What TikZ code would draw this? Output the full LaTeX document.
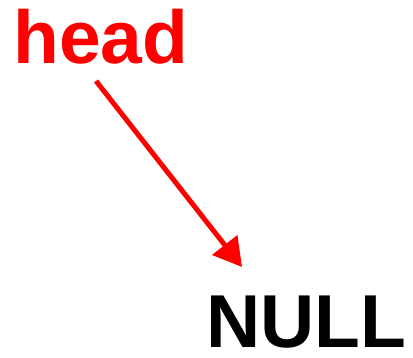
\documentclass[tikz,border=0pt]{standalone}
\usepackage{fontspec}
\setmainfont{Liberation Sans}
\usetikzlibrary{arrows.meta}
\tikzset{
  lbl/.style={inner sep=0pt, anchor=base west, font=\fontsize{75}{80}\selectfont\bfseries},
  ptr/.style={draw=red, line width=5pt, -{Triangle[length=28pt,width=31pt]}}
}
\begin{document}
\begin{tikzpicture}[x=1pt,y=-1pt]
\useasboundingbox (0,0) rectangle (413,357);
\node[lbl, text=red] (head) at (13,63) {head};
\node[lbl, text=black] (null) at (206.5,347) {NULL};
\coordinate (from) at (96,81);
\coordinate (to) at (242,267);
\draw[ptr] (from) -- (to);
\end{tikzpicture}
\end{document}
